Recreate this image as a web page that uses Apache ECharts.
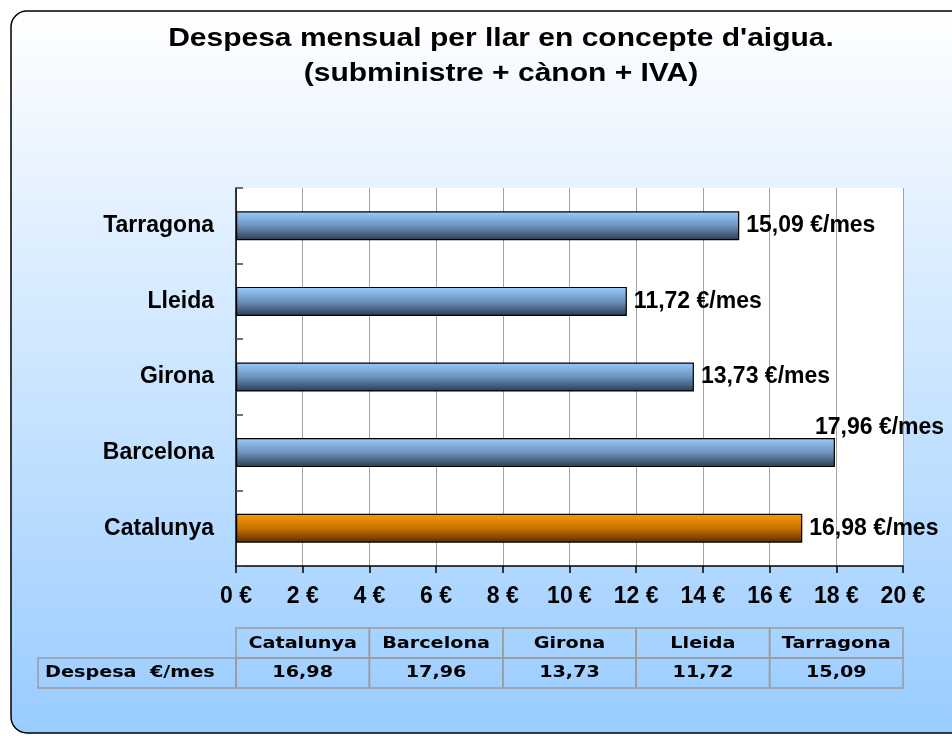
<!DOCTYPE html>
<html>
<head>
<meta charset="utf-8">
<title>Despesa mensual per llar en concepte d'aigua</title>
<script src="https://cdn.jsdelivr.net/npm/echarts@6/dist/echarts.min.js"></script>
<style>
  html, body { margin: 0; padding: 0; background: #fff; }
  #chart { width: 952px; height: 736px; }
</style>
</head>
<body>
<div id="chart"></div>
<script>
// dades: de baix a dalt al gràfic, d'esquerra a dreta a la taula
var categories = ['Catalunya', 'Barcelona', 'Girona', 'Lleida', 'Tarragona'];
var despesa = [16.98, 17.96, 13.73, 11.72, 15.09];
var titleLines = ["Despesa mensual per llar en concepte d'aigua.", '(subministre + cànon + IVA)'];
var rowLabel = 'Despesa  €/mes';
var unit = '€';
var labelUnit = '€/mes';
var xMin = 0, xMax = 20, xStep = 2;

var FONT = '"Liberation Sans", Arial, sans-serif';
var TABLE_FONT = '"DejaVu Sans", Verdana, sans-serif';

// format amb coma decimal
function fmt(v) {
  return v.toFixed(2).replace('.', ',');
}

function vgrad(stops) {
  return new echarts.graphic.LinearGradient(0, 0, 0, 1, stops.map(function(c, i) {
    return { offset: i / (stops.length - 1), color: c };
  }));
}

var blueBar = vgrad(['#99ccff', '#6d93bb', '#2a3a52']);
var orangeBar = vgrad(['#ff9900', '#c87400', '#5a2c00']);

var barData = despesa.map(function(v, i) {
  var item = { value: v };
  if (categories[i] === 'Catalunya') {
    item.itemStyle = { color: orangeBar };
  }
  if (categories[i] === 'Barcelona') {
    // l'etiqueta no hi cap a la dreta: es posa a sobre
    item.label = { offset: [-27, -25] };
  }
  return item;
});

// cel·les de la taula de dades
function renderTable(params, api) {
  var i = api.value(0);
  var cx = api.coord([i, 0])[0];
  var w = api.size([1, 0])[0];
  var cs = params.coordSys;
  var h = cs.height / 2;
  var cellStyle = { fill: 'none', stroke: '#9a9a9a', lineWidth: 1.5 };
  var textStyle = function(t) {
    return { text: t, fill: '#000', font: 'bold 16px ' + TABLE_FONT, textAlign: 'center', textVerticalAlign: 'middle' };
  };
  var children = [
    { type: 'rect', shape: { x: cx - w / 2, y: cs.y, width: w, height: h }, style: cellStyle },
    { type: 'rect', shape: { x: cx - w / 2, y: cs.y + h, width: w, height: h }, style: cellStyle },
    { type: 'text', x: cx, y: cs.y + h / 2 + 1, scaleX: 1.2, style: textStyle(categories[i]) },
    { type: 'text', x: cx, y: cs.y + h * 1.5, scaleX: 1.2, style: textStyle(fmt(api.value(1))) }
  ];
  if (params.dataIndex === 0) {
    var lw = 198;
    children.push(
      { type: 'rect', shape: { x: cx - w / 2 - lw, y: cs.y + h, width: lw, height: h }, style: cellStyle },
      { type: 'text', x: cx - w / 2 - lw + 7, y: cs.y + h * 1.5, scaleX: 1.2,
        style: { text: rowLabel, fill: '#000', font: 'bold 16px ' + TABLE_FONT, textAlign: 'left', textVerticalAlign: 'middle' } }
    );
  }
  return { type: 'group', children: children };
}

var myChart = echarts.init(document.getElementById('chart'), null, { renderer: 'canvas' });

myChart.setOption({
  animation: false,
  backgroundColor: '#fff',
  graphic: [
    {
      type: 'rect',
      z: -10,
      shape: { x: 11, y: 11, width: 970, height: 722, r: 16 },
      style: {
        fill: vgrad(['#ffffff', '#99ccff']),
        stroke: '#000',
        lineWidth: 1.5
      }
    },
    {
      type: 'text',
      x: 501,
      y: 22,
      scaleX: 1.2,
      style: {
        text: titleLines.join('\n'),
        font: 'bold 25px ' + FONT,
        fill: '#000',
        lineHeight: 35,
        textAlign: 'center',
        textVerticalAlign: 'top'
      }
    }
  ],
  grid: [
    { left: 236, top: 188, width: 667, height: 378, show: true, backgroundColor: '#fff', borderWidth: 0 },
    { left: 236, top: 628, width: 667, height: 60 }
  ],
  xAxis: [
    {
      gridIndex: 0,
      type: 'value',
      min: xMin,
      max: xMax,
      interval: xStep,
      axisLine: { show: true, lineStyle: { color: '#000', width: 1.5 } },
      axisTick: { show: true, length: 7, lineStyle: { color: '#000', width: 1.5 } },
      splitLine: { show: true, lineStyle: { color: '#a3a3a3', width: 1 } },
      axisLabel: {
        margin: 19,
        color: '#000',
        fontFamily: FONT,
        fontWeight: 'bold',
        fontSize: 23,
        formatter: function(v) { return v + ' ' + unit; }
      }
    },
    { gridIndex: 1, type: 'category', data: categories, show: false }
  ],
  yAxis: [
    {
      gridIndex: 0,
      type: 'category',
      data: categories,
      axisLine: { show: true, lineStyle: { color: '#000', width: 1.5 } },
      axisTick: { show: true, inside: true, length: 7, lineStyle: { color: '#444', width: 1.5 } },
      splitLine: { show: false },
      axisLabel: {
        margin: 22,
        color: '#000',
        fontFamily: FONT,
        fontWeight: 'bold',
        fontSize: 23
      }
    },
    { gridIndex: 1, type: 'value', min: 0, max: 1, show: false }
  ],
  series: [
    {
      name: 'Despesa',
      type: 'bar',
      xAxisIndex: 0,
      yAxisIndex: 0,
      data: barData,
      barWidth: 29,
      itemStyle: { color: blueBar, borderColor: '#000', borderWidth: 1.2 },
      label: {
        show: true,
        position: 'right',
        distance: 7,
        color: '#000',
        fontFamily: FONT,
        fontWeight: 'bold',
        fontSize: 23,
        formatter: function(p) { return fmt(p.value) + ' ' + labelUnit; }
      }
    },
    {
      name: 'Taula',
      type: 'custom',
      xAxisIndex: 1,
      yAxisIndex: 1,
      clip: false,
      silent: true,
      data: despesa.map(function(v, i) { return [i, v]; }),
      renderItem: renderTable
    }
  ]
});
</script>
</body>
</html>
